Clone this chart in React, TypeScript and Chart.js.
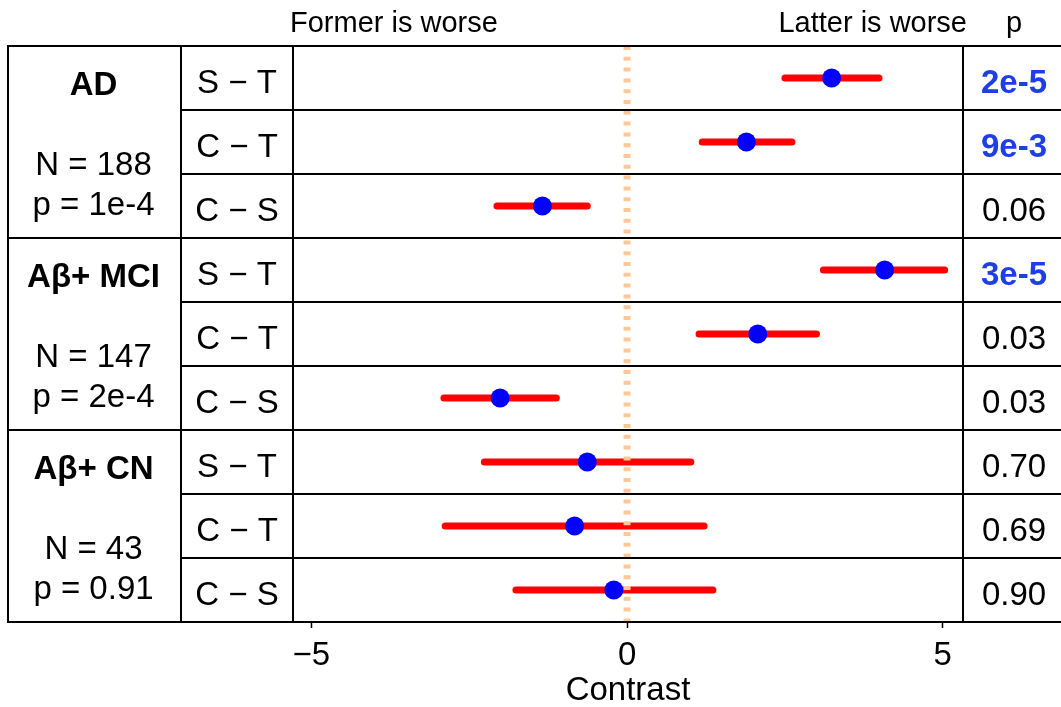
import React, { useEffect, useRef } from 'react';
import { Chart, registerables } from 'chart.js';

Chart.register(...registerables);

const FAMILY = '"Liberation Sans", Arial, Helvetica, sans-serif';

const groups = ['AD', 'Aβ+ MCI', 'Aβ+ CN'];
const groupN = ['188', '147', '43'];
const groupP = ['1e-4', '2e-4', '0.91'];
const contrasts = ['S − T', 'C − T', 'C − S'];
const estimates = [3.24, 1.89, -1.34, 4.08, 2.07, -2.01, -0.63, -0.83, -0.21];
const ciLow = [2.5, 1.19, -2.06, 3.11, 1.14, -2.9, -2.26, -2.88, -1.76];
const ciHigh = [3.99, 2.61, -0.63, 5.03, 3.0, -1.12, 1.01, 1.22, 1.36];
const pValues = ['2e-5', '9e-3', '0.06', '3e-5', '0.03', '0.03', '0.70', '0.69', '0.90'];
const pSignificant = [true, true, false, true, false, false, false, false, false];
const xTicks = [-5, 0, 5];
const xMin = -5.29;
const xMax = 5.32;
const headerLeft = 'Former is worse';
const headerRight = 'Latter is worse';
const headerP = 'p';
const axisTitle = 'Contrast';

const rowIds = groups.flatMap((g) => contrasts.map((c) => `${g} ${c}`));

const tablePlugin = {
  id: 'forestTable',
  afterDatasetsDraw(chart: any) {
    const { ctx, chartArea, scales } = chart;
    const x0 = scales.x.getPixelForValue(0);
    ctx.save();
    ctx.strokeStyle = '#fdc896';
    ctx.lineWidth = 7;
    ctx.setLineDash([4, 6.8]);
    ctx.lineCap = 'butt';
    ctx.beginPath();
    ctx.moveTo(x0, chartArea.top);
    ctx.lineTo(x0, chartArea.bottom);
    ctx.stroke();
    ctx.restore();
  },
  afterDraw(chart: any) {
    const { ctx, chartArea, scales, width } = chart;
    const ys = scales.y;
    const n = rowIds.length;
    const rowH = (chartArea.bottom - chartArea.top) / n;
    const tableLeft = 8;
    const labelCol = 181;
    const plotL = chartArea.left;
    const plotR = chartArea.right;
    const top = chartArea.top;
    const bottom = chartArea.bottom;
    const pX = plotR + 51;

    ctx.save();
    ctx.strokeStyle = '#000';
    ctx.lineWidth = 2;
    ctx.setLineDash([]);
    for (let i = 0; i <= n; i++) {
      const yy = i === n ? bottom : ys.getPixelForValue(i) - rowH / 2;
      const isGroup = i % contrasts.length === 0;
      ctx.beginPath();
      ctx.moveTo(isGroup ? tableLeft - 1 : labelCol, yy);
      ctx.lineTo(width, yy);
      ctx.stroke();
    }
    [tableLeft, labelCol, plotL, plotR].forEach((xx) => {
      ctx.beginPath();
      ctx.moveTo(xx, top - 1);
      ctx.lineTo(xx, bottom + 1);
      ctx.stroke();
    });

    ctx.fillStyle = '#000';
    ctx.textBaseline = 'alphabetic';

    // header
    ctx.font = `29px ${FAMILY}`;
    ctx.textAlign = 'left';
    ctx.fillText(headerLeft, plotL - 3, top - 14);
    ctx.textAlign = 'right';
    ctx.fillText(headerRight, plotR + 4, top - 14);
    ctx.textAlign = 'center';
    ctx.fillText(headerP, pX, top - 14);

    // group labels
    const gx = (tableLeft + labelCol) / 2 - 1;
    groups.forEach((g, gi) => {
      const gTop = ys.getPixelForValue(gi * contrasts.length) - rowH / 2;
      ctx.textAlign = 'center';
      ctx.font = `bold 33px ${FAMILY}`;
      ctx.fillText(g, gx, gTop + rowH * 0.766);
      ctx.font = `33px ${FAMILY}`;
      ctx.fillText(`N = ${groupN[gi]}`, gx, gTop + rowH * 2.016);
      ctx.fillText(`p = ${groupP[gi]}`, gx, gTop + rowH * 2.64);
    });

    // contrast labels and p values
    rowIds.forEach((_, i) => {
      const cy = ys.getPixelForValue(i);
      ctx.textAlign = 'center';
      ctx.font = `33px ${FAMILY}`;
      ctx.fillStyle = '#000';
      ctx.fillText(contrasts[i % contrasts.length], (labelCol + plotL) / 2, cy + 14.5);
      if (pSignificant[i]) {
        ctx.font = `bold 33px ${FAMILY}`;
        ctx.fillStyle = '#1e3ee6';
      } else {
        ctx.font = `33px ${FAMILY}`;
        ctx.fillStyle = '#000';
      }
      ctx.fillText(pValues[i], pX, cy + 15);
    });
    ctx.restore();
  },
};

export default function App() {
  const canvasRef = useRef<HTMLCanvasElement | null>(null);

  useEffect(() => {
    const canvas = canvasRef.current;
    if (!canvas) return;
    const ciSegments = rowIds.flatMap((r, i) => [
      { x: ciLow[i], y: r },
      { x: ciHigh[i], y: r },
      { x: null, y: r },
    ]);
    const chart = new Chart(canvas, {
      type: 'line',
      data: {
        labels: rowIds,
        datasets: [
          {
            type: 'scatter',
            data: estimates.map((v, i) => ({ x: v, y: rowIds[i] })),
            backgroundColor: '#0000ff',
            borderWidth: 0,
            pointRadius: 9.5,
            pointHoverRadius: 9.5,
            order: 0,
          } as any,
          {
            type: 'line',
            data: ciSegments,
            borderColor: '#ff0000',
            backgroundColor: '#ff0000',
            borderWidth: 7,
            borderCapStyle: 'round',
            pointRadius: 0,
            pointHoverRadius: 0,
            spanGaps: false,
            fill: false,
            tension: 0,
            order: 1,
          } as any,
        ],
      },
      options: {
        indexAxis: 'y',
        responsive: false,
        animation: false,
        devicePixelRatio: 1,
        layout: { padding: { left: 293, right: 98, top: 46, bottom: 0 } },
        plugins: {
          legend: { display: false },
          tooltip: { enabled: false },
        },
        scales: {
          x: {
            type: 'linear',
            min: xMin,
            max: xMax,
            afterFit(s: any) {
              s.height = 85;
            },
            afterBuildTicks(s: any) {
              s.ticks = xTicks.map((v) => ({ value: v }));
            },
            grid: {
              drawOnChartArea: false,
              drawTicks: true,
              tickLength: 6,
              color: '#000',
              tickWidth: 1.5,
            },
            border: { display: false },
            ticks: {
              color: '#000',
              padding: 8,
              font: { size: 33, family: FAMILY },
              callback: (v: any) => (Number(v) < 0 ? '\u2212' + Math.abs(Number(v)) : String(v)),
            },
            title: {
              display: true,
              text: axisTitle,
              color: '#000',
              padding: 0,
              font: { size: 33, family: FAMILY, lineHeight: 1 },
            },
          },
          y: {
            type: 'category',
            display: false,
            offset: true,
            grid: { offset: true },
          },
        },
      } as any,
      plugins: [tablePlugin],
    });
    return () => chart.destroy();
  }, []);

  return (
    <div style={{ position: 'fixed', left: 0, top: 0, width: 1061, height: 707, background: '#fff' }}>
      <canvas ref={canvasRef} width={1061} height={707} style={{ display: 'block' }} />
    </div>
  );
}
